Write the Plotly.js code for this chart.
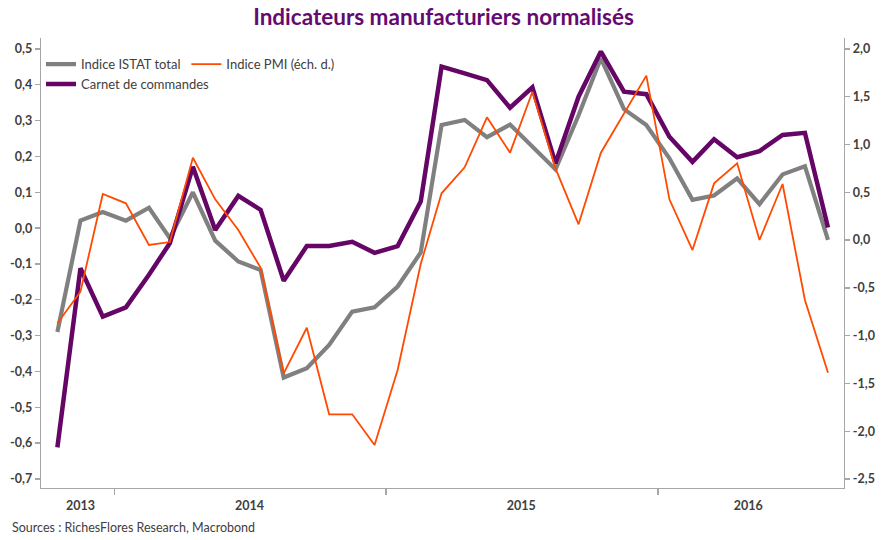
<!DOCTYPE html>
<html>
<head>
<meta charset="utf-8">
<script src="https://cdn.plot.ly/plotly-3.0.1.min.js"></script>
<style>html,body{margin:0;padding:0;background:#fff;}#chart{width:887px;height:540px;}</style>
</head>
<body>
<div id="chart"></div>
<script>
// Monthly observations, Oct 2013 – Aug 2016
const months = [
  "2013-10-01","2013-11-01","2013-12-01",
  "2014-01-01","2014-02-01","2014-03-01","2014-04-01","2014-05-01","2014-06-01",
  "2014-07-01","2014-08-01","2014-09-01","2014-10-01","2014-11-01","2014-12-01",
  "2015-01-01","2015-02-01","2015-03-01","2015-04-01","2015-05-01","2015-06-01",
  "2015-07-01","2015-08-01","2015-09-01","2015-10-01","2015-11-01","2015-12-01",
  "2016-01-01","2016-02-01","2016-03-01","2016-04-01","2016-05-01","2016-06-01",
  "2016-07-01","2016-08-01"
];
// Indice ISTAT total (left axis)
const istat = [
  -0.29, 0.021, 0.045, 0.021, 0.057, -0.028, 0.10, -0.035, -0.093, -0.117,
  -0.417, -0.391, -0.326, -0.233, -0.221, -0.163, -0.068, 0.288, 0.302, 0.254,
  0.289, 0.227, 0.164, 0.315, 0.474, 0.332, 0.288, 0.195, 0.079, 0.091,
  0.139, 0.067, 0.150, 0.173, -0.033
];
// Carnet de commandes (left axis)
const carnet = [
  -0.612, -0.112, -0.247, -0.221, -0.13, -0.042, 0.171, -0.005, 0.090, 0.051,
  -0.147, -0.050, -0.050, -0.038, -0.069, -0.050, 0.074, 0.451, 0.432, 0.413,
  0.336, 0.393, 0.181, 0.367, 0.493, 0.381, 0.374, 0.255, 0.185, 0.248,
  0.198, 0.215, 0.260, 0.266, 0.002
];
// Indice PMI (right axis)
const pmi = [
  -0.87, -0.54, 0.483, 0.385, -0.051, -0.02, 0.862, 0.427, 0.106, -0.29,
  -1.394, -0.917, -1.823, -1.823, -2.144, -1.359, -0.25, 0.490, 0.762, 1.285,
  0.915, 1.553, 0.751, 0.165, 0.915, 1.32, 1.721, 0.427, -0.104, 0.594,
  0.804, 0.001, 0.587, -0.627, -1.387
];
// Axis labels
const yearLabels = ["2013", "2014", "2015", "2016"];
const yearCenters = ["2013-11-01", "2014-06-16", "2015-06-16", "2016-04-16"];
const yearBreaks = ["2013-12-16 12:00", "2014-12-16 12:00", "2015-12-16 12:00"];
const leftTicks = [0.5, 0.4, 0.3, 0.2, 0.1, 0, -0.1, -0.2, -0.3, -0.4, -0.5, -0.6, -0.7];
const rightTicks = [2.0, 1.5, 1.0, 0.5, 0, -0.5, -1.0, -1.5, -2.0, -2.5];

const fmt = (v, d) => v.toFixed(d).replace(".", ",").replace(/^-0,0+$/, "0,0");

const FONT = "Lato, 'Open Sans', sans-serif";
const TXT = "#404040";
const AX = "#a6a6a6";
const xRange = ["2013-09-09", "2016-08-22 12:00"];

const traces = [
  {x: months, y: istat, name: "Indice ISTAT total", type: "scatter", mode: "lines",
   line: {color: "#808080", width: 4.2}, legend: "legend"},
  {x: months, y: carnet, name: "Carnet de commandes", type: "scatter", mode: "lines",
   line: {color: "#650565", width: 4.5}, legend: "legend"},
  {x: months, y: pmi, name: "Indice PMI (éch. d.)", type: "scatter", mode: "lines",
   line: {color: "#ff4a00", width: 1.8}, yaxis: "y2", legend: "legend2"},
  // empty helper trace so the year-separator tick axis is drawn
  {x: yearBreaks, y: [null, null, null], xaxis: "x2", type: "scatter", mode: "lines",
   showlegend: false, hoverinfo: "skip"}
];

const layout = {
  width: 887, height: 540,
  margin: {l: 41, r: 43, t: 38, b: 52},
  paper_bgcolor: "#fff", plot_bgcolor: "#fff",
  font: {family: FONT, color: TXT, size: 12},
  showlegend: true,
  title: {text: "Indicateurs manufacturiers normalisés", x: 0.5, xanchor: "center", y: 0.968, yanchor: "middle",
          font: {family: FONT, size: 22.5, color: "#650a70", weight: "bold"}},
  xaxis: {type: "date", range: xRange, tickmode: "array", tickvals: yearCenters, ticktext: yearLabels,
          ticks: "", showgrid: false, zeroline: false, showline: true, linecolor: AX, linewidth: 1.3,
          tickfont: {family: FONT, size: 12.5, color: TXT, weight: "bold"}, ticklabelstandoff: 6, fixedrange: true},
  xaxis2: {type: "date", range: xRange, overlaying: "x", anchor: "y", side: "bottom",
           tickmode: "array", tickvals: yearBreaks, ticktext: ["", "", ""], ticks: "outside",
           ticklen: 6, tickcolor: AX, tickwidth: 1.3, showticklabels: false, showgrid: false,
           zeroline: false, showline: false},
  yaxis: {range: [-0.7253, 0.5307], tickmode: "array", tickvals: leftTicks,
          ticktext: leftTicks.map(v => fmt(v, 1)), ticks: "outside", ticklen: 5, tickcolor: AX, tickwidth: 1.3,
          showgrid: false, zeroline: false, showline: true, linecolor: AX, linewidth: 1.3,
          tickfont: {family: FONT, size: 12.5, color: TXT, weight: "bold"}},
  yaxis2: {range: [-2.594, 2.115], overlaying: "y", side: "right", anchor: "x", tickmode: "array",
           tickvals: rightTicks, ticktext: rightTicks.map(v => fmt(v, 1)), ticks: "outside", ticklen: 5,
           tickcolor: AX, tickwidth: 1.3, showgrid: false, zeroline: false, showline: true,
           linecolor: AX, linewidth: 1.3,
           tickfont: {family: FONT, size: 12.5, color: TXT, weight: "bold"}},
  legend: {x: 0.0, y: 0.975, xanchor: "left", yanchor: "top", orientation: "v", bgcolor: "rgba(0,0,0,0)",
           font: {family: FONT, size: 13, color: TXT}, itemwidth: 30, tracegroupgap: 0},
  legend2: {x: 0.181, y: 0.975, xanchor: "left", yanchor: "top", orientation: "v", bgcolor: "rgba(0,0,0,0)",
            font: {family: FONT, size: 13, color: TXT}, itemwidth: 30},
  annotations: [
    {text: "Sources : RichesFlores Research, Macrobond", xref: "paper", yref: "paper",
     x: -0.038, y: -0.088, xanchor: "left", yanchor: "middle", showarrow: false,
     font: {family: FONT, size: 12.5, color: TXT}}
  ]
};

Plotly.newPlot("chart", traces, layout, {displayModeBar: false, staticPlot: true});
</script>
</body>
</html>
